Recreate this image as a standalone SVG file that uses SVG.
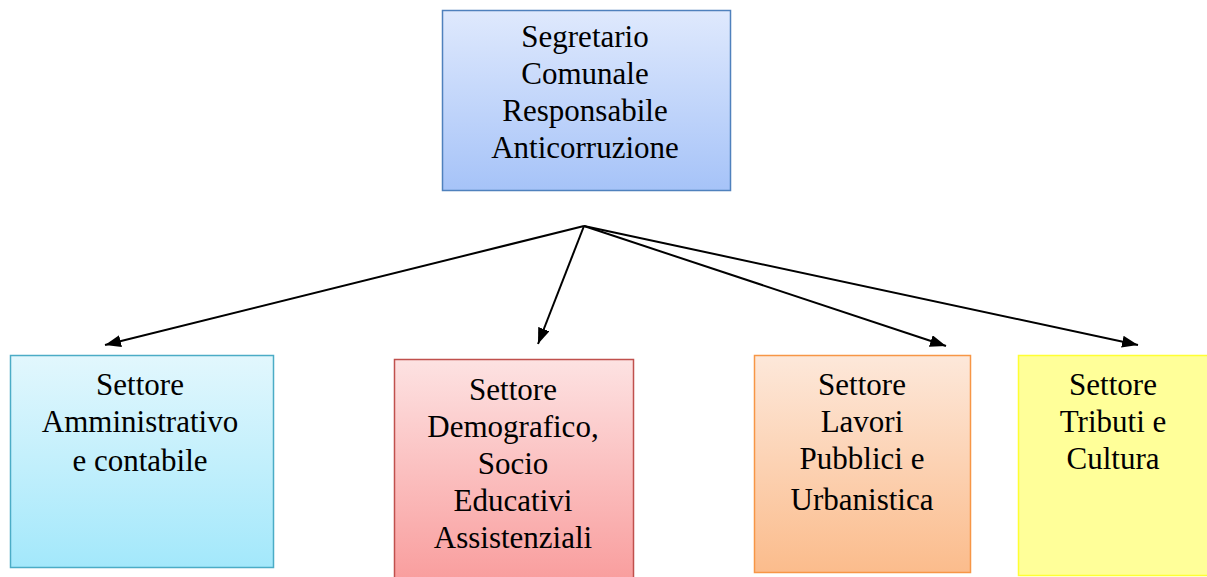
<svg xmlns="http://www.w3.org/2000/svg" width="1207" height="577" viewBox="0 0 1207 577">
<defs>
<linearGradient id="gBlue" x1="0" y1="0" x2="0" y2="1"><stop offset="0" stop-color="#dfe9fd"/><stop offset="1" stop-color="#a6c3f8"/></linearGradient>
<linearGradient id="gCyan" x1="0" y1="0" x2="0" y2="1"><stop offset="0" stop-color="#e2f7fd"/><stop offset="1" stop-color="#a3e8fb"/></linearGradient>
<linearGradient id="gRed" x1="0" y1="0" x2="0" y2="1"><stop offset="0" stop-color="#fde2e2"/><stop offset="1" stop-color="#f99e9e"/></linearGradient>
<linearGradient id="gOrange" x1="0" y1="0" x2="0" y2="1"><stop offset="0" stop-color="#fde8da"/><stop offset="1" stop-color="#fbbc8c"/></linearGradient>
<marker id="arr" viewBox="0 0 16 12" refX="16" refY="6" markerWidth="16" markerHeight="12" markerUnits="userSpaceOnUse" orient="auto"><path d="M0,0 L16,6 L0,12 z" fill="#000"/></marker>
</defs>
<style>
text{font-family:"Liberation Serif","Times New Roman",serif;font-size:31px;fill:#000;text-anchor:middle}
.c{stroke:#000;stroke-width:2;fill:none;marker-end:url(#arr)}
</style>
<g id="top">
<rect x="442.5" y="10.5" width="288" height="180" fill="url(#gBlue)" stroke="#4f81bd" stroke-width="1.5"/>
<text x="585" y="47">Segretario</text>
<text x="585" y="84">Comunale</text>
<text x="585" y="121">Responsabile</text>
<text x="585" y="158">Anticorruzione</text>
</g>
<g id="amministrativo">
<rect x="10.5" y="355.5" width="263" height="212" fill="url(#gCyan)" stroke="#4bacc6" stroke-width="1.5"/>
<text x="140" y="395">Settore</text>
<text x="140" y="432">Amministrativo</text>
<text x="140" y="471">e contabile</text>
</g>
<g id="demografico">
<rect x="394.5" y="359.5" width="239" height="220" fill="url(#gRed)" stroke="#c0504d" stroke-width="1.5"/>
<text x="513" y="400">Settore</text>
<text x="513" y="437">Demografico,</text>
<text x="513" y="474">Socio</text>
<text x="513" y="511">Educativi</text>
<text x="513" y="548">Assistenziali</text>
</g>
<g id="lavori">
<rect x="754.5" y="355.5" width="216" height="217" fill="url(#gOrange)" stroke="#f79646" stroke-width="1.5"/>
<text x="862" y="395">Settore</text>
<text x="862" y="432">Lavori</text>
<text x="862" y="469">Pubblici e</text>
<text x="862" y="510">Urbanistica</text>
</g>
<g id="tributi">
<rect x="1018.5" y="355.5" width="192" height="220" fill="#ffff99" stroke="#ffff33" stroke-width="1.5"/>
<text x="1113" y="395">Settore</text>
<text x="1113" y="432">Tributi e</text>
<text x="1113" y="469">Cultura</text>
</g>
<g id="connectors">
<line class="c" x1="584" y1="226" x2="105" y2="345"/>
<line class="c" x1="584" y1="226" x2="538" y2="344"/>
<line class="c" x1="584" y1="226" x2="946" y2="346" stroke-width="2.5"/>
<line class="c" x1="584" y1="226" x2="1138" y2="345"/>
</g>
</svg>
